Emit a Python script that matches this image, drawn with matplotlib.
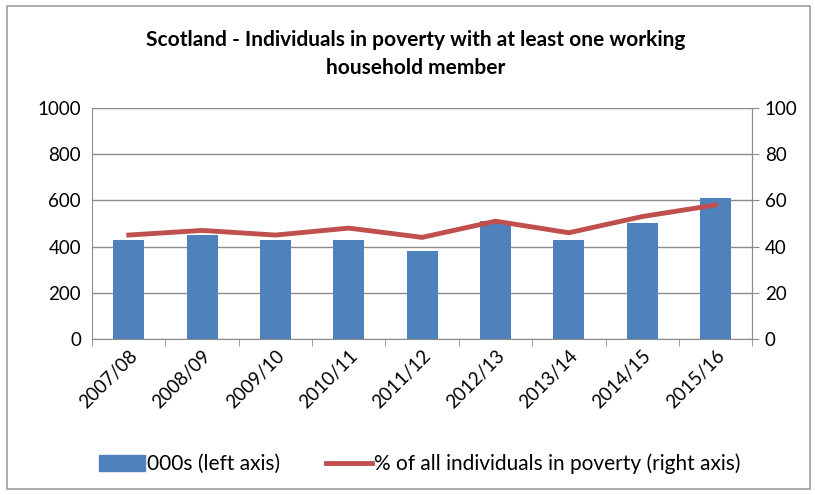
import matplotlib
matplotlib.use('Agg')
import matplotlib.pyplot as plt
from matplotlib.patches import Rectangle, Patch
from matplotlib.lines import Line2D

years = ['2007/08', '2008/09', '2009/10', '2010/11', '2011/12',
         '2012/13', '2013/14', '2014/15', '2015/16']
people_000s = [430, 450, 430, 430, 380, 510, 430, 500, 610]
pct_in_poverty = [45, 47, 45, 48, 44, 51, 46, 53, 58]

plt.rcParams['font.family'] = ['Lato', 'DejaVu Sans']

fig = plt.figure(figsize=(8.15, 4.95), dpi=100)
# thin grey frame round the whole chart
fig.patches.append(Rectangle((0.008, 0.012), 0.986, 0.975, transform=fig.transFigure,
                             fill=False, edgecolor='#a0a0a0', linewidth=1.2))

ax = fig.add_axes([0.113, 0.315, 0.81, 0.467])
x = range(len(years))
ax.bar(x, people_000s, width=0.42, color='#4f81bd', zorder=2)
ax.set_ylim(0, 1000)
ax.set_xlim(-0.5, len(years) - 0.5)
ax.set_yticks(range(0, 1001, 200))
ax.yaxis.grid(True, color='#8c8c8c', linewidth=1)
ax.set_axisbelow(True)
ax.set_xticks(list(x))
ax.set_xticklabels(years, rotation=45, ha='right', rotation_mode='anchor')
ax.set_xticks([i + 0.5 for i in range(-1, len(years))], minor=True)
ax.tick_params(axis='x', which='major', length=0, labelsize=13.5, pad=6)
ax.tick_params(axis='x', which='minor', length=5, color='#8c8c8c')
ax.tick_params(axis='y', length=0, labelsize=13.5, pad=8)
ax.spines['top'].set_visible(False)
for s in ['left', 'right', 'bottom']:
    ax.spines[s].set_color('#8c8c8c')

ax2 = ax.twinx()
ax2.plot(x, pct_in_poverty, color='#c0504d', linewidth=3.5, zorder=3)
ax2.set_ylim(0, 100)
ax2.set_yticks(range(0, 101, 20))
ax2.tick_params(axis='y', length=5, color='#8c8c8c', labelsize=13.5, pad=4)
ax2.spines['top'].set_visible(False)
ax2.spines['right'].set_color('#8c8c8c')
ax2.spines['left'].set_visible(False)
ax2.spines['bottom'].set_visible(False)

fig.text(0.51, 0.89, 'Scotland - Individuals in poverty with at least one working\nhousehold member',
         ha='center', va='center', fontsize=15, fontweight='bold', linespacing=1.5)

handles = [Patch(color='#4f81bd'), Line2D([], [], color='#c0504d', linewidth=3.5)]
fig.legend(handles, ['000s (left axis)', '% of all individuals in poverty (right axis)'],
           loc='center', bbox_to_anchor=(0.515, 0.063), ncol=2, frameon=False,
           fontsize=15, handlelength=2.2, handleheight=0.8, columnspacing=2.2,
           handletextpad=0.1)

fig.savefig('out.png', dpi=100)
